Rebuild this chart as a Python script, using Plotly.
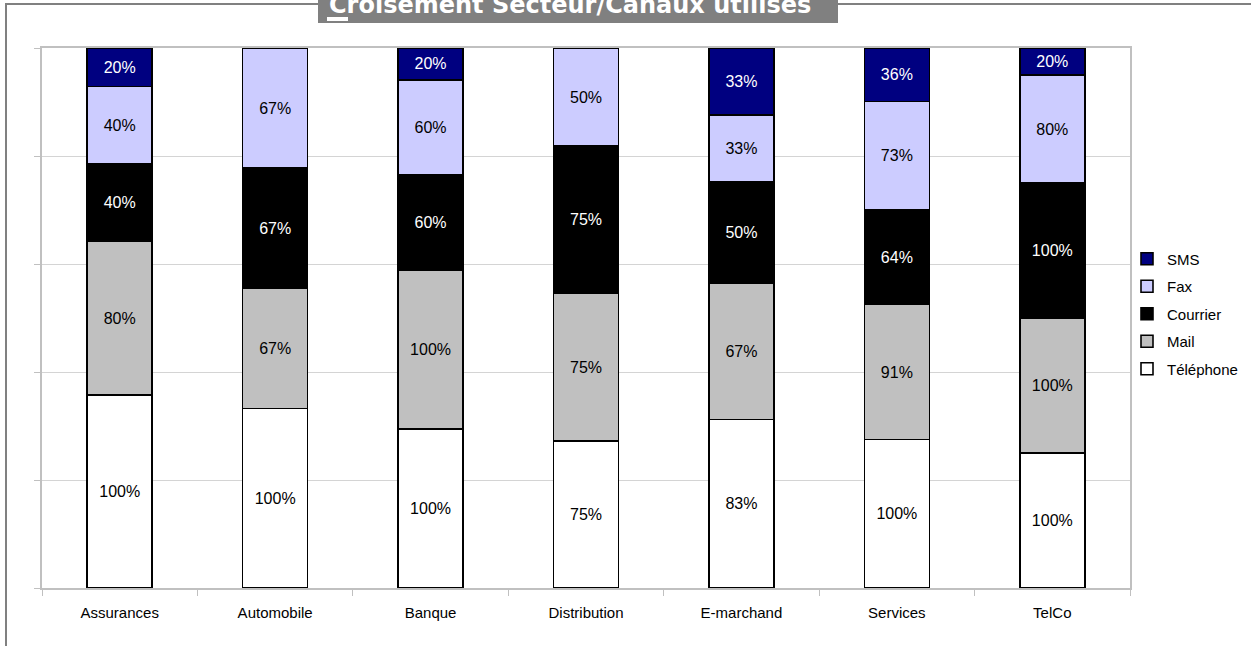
import plotly.graph_objects as go

categories = ["Assurances", "Automobile", "Banque", "Distribution", "E-marchand", "Services", "TelCo"]
telephone = [100, 100, 100, 75, 83, 100, 100]
mail = [80, 67, 100, 75, 67, 91, 100]
courrier = [40, 67, 60, 75, 50, 64, 100]
fax = [40, 67, 60, 50, 33, 73, 80]
sms = [20, None, 20, None, 33, 36, 20]

series = [
    ("Téléphone", telephone, "#FFFFFF", "#000000"),
    ("Mail", mail, "#C0C0C0", "#000000"),
    ("Courrier", courrier, "#000000", "#FFFFFF"),
    ("Fax", fax, "#CCCCFF", "#000000"),
    ("SMS", sms, "#000080", "#FFFFFF"),
]

# plot area in pixels
L, R, T, B = 42, 1130, 48, 588
W, H = R - L, B - T
def px(x):
    return (x - L) / W
def py(y):
    return (B - y) / H

fig = go.Figure()
for i, (name, vals, color, tcolor) in enumerate(series):
    fig.add_trace(go.Bar(
        x=categories, y=vals, name=name,
        text=[f"{v}%" if v is not None else "" for v in vals],
        textposition="inside", insidetextanchor="middle", textangle=0,
        constraintext="none",
        textfont=dict(family="Liberation Sans, Arial", size=16, color=tcolor),
        marker=dict(color=color, line=dict(color="#000000", width=1.6)),
        legendgroup=name, legendrank=len(series) - i,
    ))

fig.update_layout(
    width=1251, height=646,
    barmode="stack", barnorm="percent", bargap=0.582,
    plot_bgcolor="white", paper_bgcolor="white",
    margin=dict(l=L, r=1251 - R, t=T, b=646 - B, autoexpand=False),
    font=dict(family="Liberation Sans, Arial", color="#000000"),
    showlegend=True,
    legend=dict(
        x=px(1127), y=py(314), xanchor="left", yanchor="middle",
        traceorder="grouped", tracegroupgap=5,
        font=dict(size=15, color="#000000"),
        bgcolor="rgba(0,0,0,0)",
    ),
    xaxis=dict(
        showline=True, linecolor="#C0C0C0", linewidth=2, mirror=True,
        ticks="outside", tickson="boundaries", ticklen=6, tickcolor="#C0C0C0", tickwidth=1,
        tickfont=dict(size=15, color="#000000"), ticklabelstandoff=10,
        showgrid=False,
    ),
    yaxis=dict(
        range=[0, 100], dtick=20, showticklabels=False,
        showline=True, linecolor="#C0C0C0", linewidth=2, mirror=True,
        ticks="outside", ticklen=6, tickcolor="#C0C0C0",
        showgrid=True, gridcolor="#D4D4D4", gridwidth=1, zeroline=False,
    ),
    shapes=[
        dict(type="rect", xref="paper", yref="paper",
             x0=px(6), x1=px(1262), y0=py(660), y1=py(4),
             line=dict(color="#808080", width=2), fillcolor="rgba(0,0,0,0)"),
        dict(type="rect", xref="paper", yref="paper",
             x0=px(318), x1=px(838), y0=py(23), y1=py(-6),
             line=dict(width=0), fillcolor="#808080"),
        dict(type="rect", xref="paper", yref="paper",
             x0=px(327), x1=px(348), y0=py(21), y1=py(17),
             line=dict(width=0), fillcolor="#FFFFFF"),
    ],
    annotations=[
        dict(text="<b>Croisement Secteur/Canaux utilisés</b>", xref="paper", yref="paper",
             x=px(570), y=py(5), xanchor="center", yanchor="middle", showarrow=False,
             font=dict(family="DejaVu Sans", size=24, color="#FFFFFF")),
    ],
)

fig.write_html("out.html")
